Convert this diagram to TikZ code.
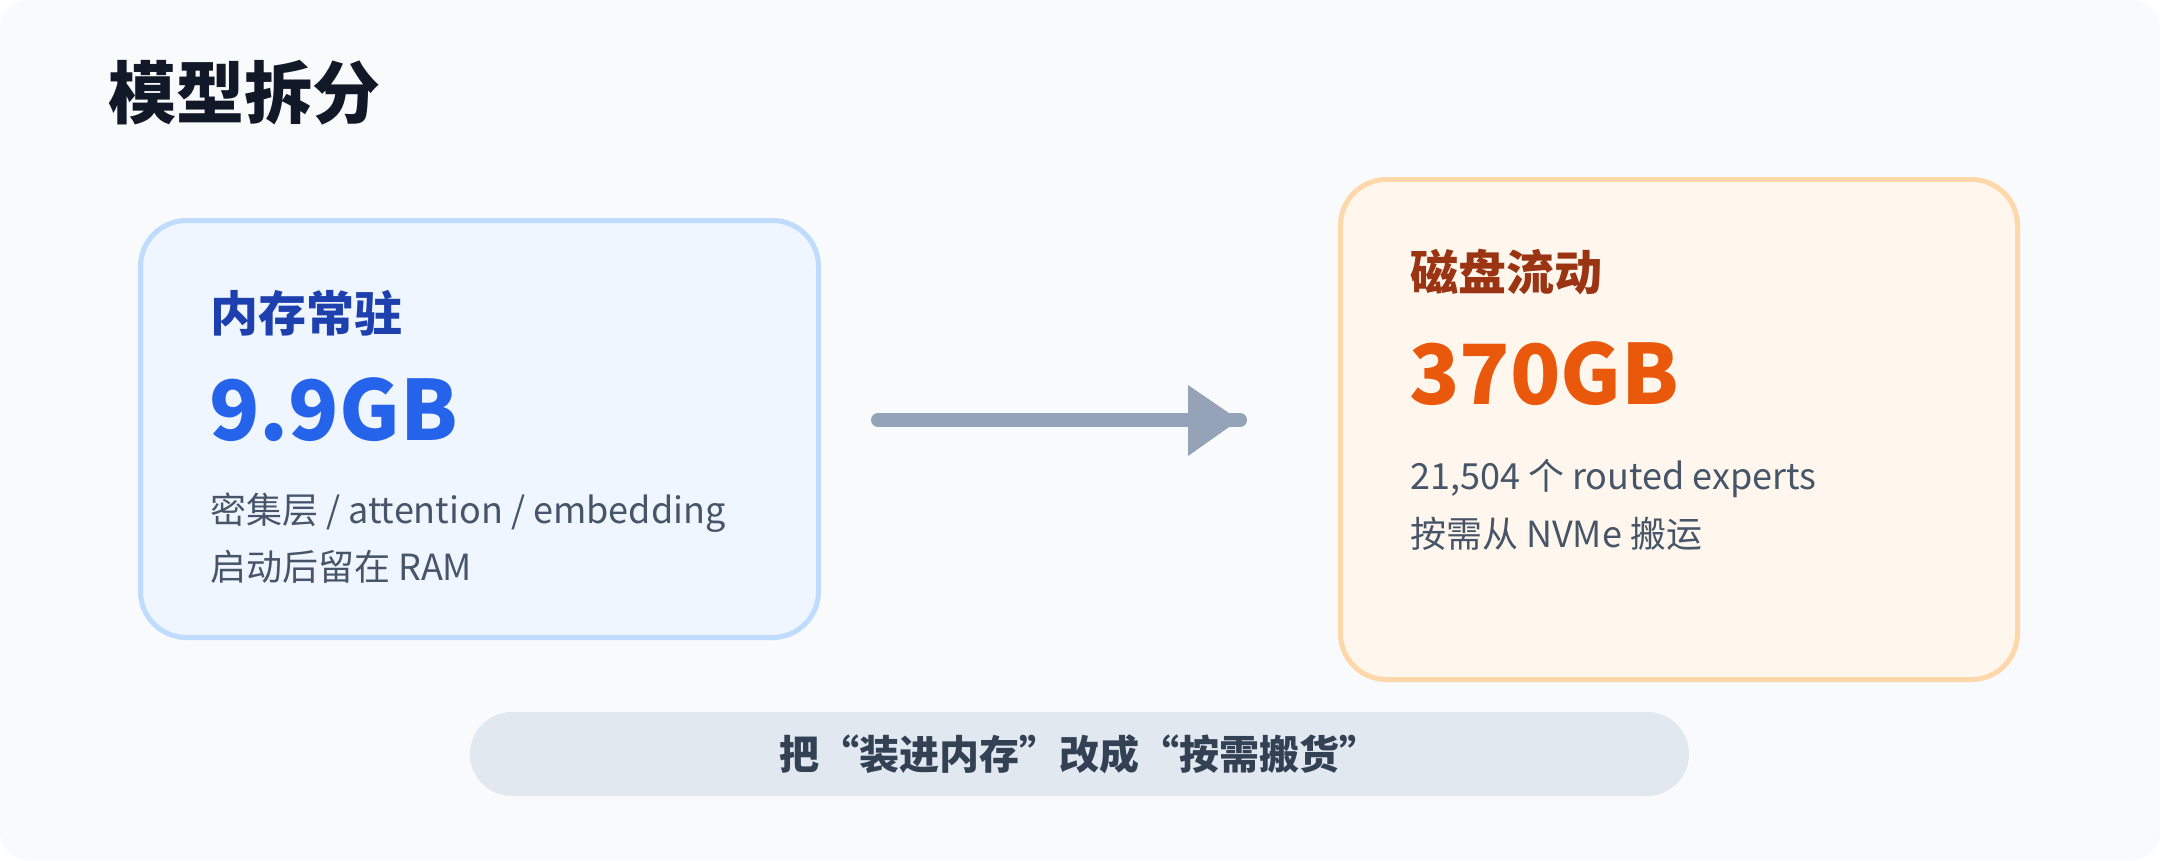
\documentclass[tikz,border=0pt]{standalone}
\usepackage{fontspec}
\setmainfont{Noto Sans CJK SC}
\definecolor{bgc}{HTML}{F8FAFC}
\definecolor{titlec}{HTML}{111827}
\definecolor{memfill}{HTML}{EFF6FF}
\definecolor{memline}{HTML}{BFDBFE}
\definecolor{memhead}{HTML}{1E40AF}
\definecolor{memnum}{HTML}{2563EB}
\definecolor{bodyc}{HTML}{475569}
\definecolor{diskfill}{HTML}{FFF7ED}
\definecolor{diskline}{HTML}{FED7AA}
\definecolor{diskhead}{HTML}{9A3412}
\definecolor{disknum}{HTML}{EA580C}
\definecolor{arrowc}{HTML}{94A3B8}
\definecolor{pillc}{HTML}{E2E8F0}
\definecolor{pilltext}{HTML}{334155}
\begin{document}
\begin{tikzpicture}[x=1pt,y=-1pt,
  card/.style={draw, line width=5pt, rounded corners=46pt, inner sep=0pt},
  txt/.style={anchor=base west, inner sep=0pt},
  head/.style={txt, font=\fontsize{48}{56}\selectfont\bfseries},
  bignum/.style={txt, font=\fontsize{83}{96}\selectfont\bfseries},
  body/.style={txt, text=bodyc, font=\fontsize{36}{42}\selectfont}
]
\useasboundingbox (0,0) rectangle (2160,860);
\fill[white] (0,0) rectangle (2160,860);
\fill[bgc, rounded corners=28pt] (0,0) rectangle (2160,860);

\node[txt, text=titlec, font=\fontsize{68}{80}\selectfont\bfseries] (title) at (108,118) {模型拆分};

% left card
\node[card, draw=memline, fill=memfill, minimum width=678pt, minimum height=417pt] (mem) at (479.5,429) {};
\node[head, text=memhead] (memh) at (210,331) {内存常驻};
\node[bignum, text=memnum] (memn) at (209,440) {9.9GB};
\node[body] (memb1) at (210,523) {密集层 / attention / embedding};
\node[body] (memb2) at (210,580) {启动后留在 RAM};

% right card
\node[card, draw=diskline, fill=diskfill, minimum width=677pt, minimum height=500pt] (disk) at (1679,429.5) {};
\node[head, text=diskhead] (diskh) at (1410,290) {磁盘流动};
\node[bignum, text=disknum] (diskn) at (1409,404) {370GB};
\node[body] (diskb1) at (1410,489) {21,504 个 routed experts};
\node[body] (diskb2) at (1410,547) {按需从 NVMe 搬运};

% arrow
\coordinate (a1) at (878,420);
\coordinate (a2) at (1240,420);
\draw[arrowc, line width=14pt, line cap=round] (a1) -- (a2);
\fill[arrowc] ([xshift=-52pt,yshift=-36pt]a2) -- ([xshift=-1pt]a2) -- ([xshift=-52pt,yshift=35pt]a2) -- cycle;

% pill
\node[fill=pillc, rounded corners=42pt, minimum width=1219pt, minimum height=84pt, inner sep=0pt] (pill) at (1079.5,754) {};
\node[text=pilltext, inner sep=0pt, font=\fontsize{40}{48}\selectfont\bfseries] (pillt) at (pill.center) {把“装进内存”改成“按需搬货”};
\end{tikzpicture}
\end{document}
